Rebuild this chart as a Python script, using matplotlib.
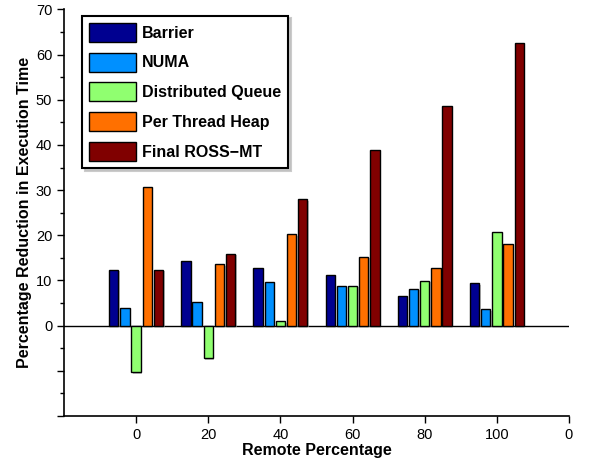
import matplotlib.pyplot as plt
import matplotlib.patheffects as pe
import numpy as np

plt.rcParams['font.family'] = ['Liberation Sans', 'DejaVu Sans']

# remote percentage groups
groups = ['0', '20', '40', '60', '80', '100']
series = ['Barrier', 'NUMA', 'Distributed Queue', 'Per Thread Heap', 'Final ROSS\u2212MT']
barrier = [12.3, 14.4, 12.8, 11.3, 6.6, 9.4]
numa = [3.9, 5.2, 9.7, 8.85, 8.1, 3.6]
dist_queue = [-10.3, -7.2, 1.0, 8.85, 9.9, 20.7]
per_thread = [30.7, 13.6, 20.2, 15.2, 12.8, 18.1]
final_ross = [12.3, 15.9, 28.0, 38.9, 48.7, 62.5]
colors = ['#000090', '#0090ff', '#90ff70', '#ff7000', '#800000']

values = [barrier, numa, dist_queue, per_thread, final_ross]

fig = plt.figure(figsize=(5.95, 4.65), dpi=100)
ax = fig.add_axes([0.1076, 0.1054, 0.8487, 0.8742])

x = np.arange(len(groups))
slot = 0.155
width = 0.13
shadow = [pe.SimplePatchShadow(offset=(1.0, -1.0), shadow_rgbFace='0.6', alpha=0.6), pe.Normal()]
for i, (name, vals) in enumerate(zip(series, values)):
    ax.bar(x + (i - 2) * slot, vals, width, color=colors[i], edgecolor='black',
           linewidth=1.0, label=name, path_effects=shadow, zorder=3)

ax.axhline(0, color='black', linewidth=1.0, zorder=2)

ax.set_xlim(-1, 6)
ax.set_ylim(-20, 70)
ax.set_xticks(np.arange(7))
ax.set_xticklabels(groups + ['0'])
ax.set_yticks(np.arange(-20, 71, 10))
ax.set_yticklabels(['' if v < 0 else str(v) for v in range(-20, 71, 10)])
ax.set_yticks(np.arange(-15, 70, 10), minor=True)
ax.tick_params(axis='both', which='major', direction='out', length=5, width=1.0,
               labelsize=10.5, colors='black')
ax.tick_params(axis='y', which='minor', direction='out', length=3, width=1.0)

for side in ['top', 'right']:
    ax.spines[side].set_visible(False)
for side in ['left', 'bottom']:
    ax.spines[side].set_linewidth(1.2)

ax.set_xlabel('Remote Percentage', fontsize=11.5, fontweight='bold', labelpad=1)
ax.set_ylabel('Percentage Reduction in Execution Time', fontsize=11.5, fontweight='bold',
              labelpad=3)

leg = ax.legend(loc='upper left', bbox_to_anchor=(0.036, 0.985), fancybox=False,
                frameon=True, edgecolor='black', prop={'size': 11.5, 'weight': 'bold'},
                handlelength=2.9, handleheight=1.45, labelspacing=0.68,
                handletextpad=0.4, borderpad=0.45, borderaxespad=0,
                shadow={'color': '0.75', 'alpha': 0.8})
leg.get_frame().set_linewidth(1.5)
for h in leg.legend_handles:
    h.set_path_effects([])

fig.savefig('out.png', dpi=100)
